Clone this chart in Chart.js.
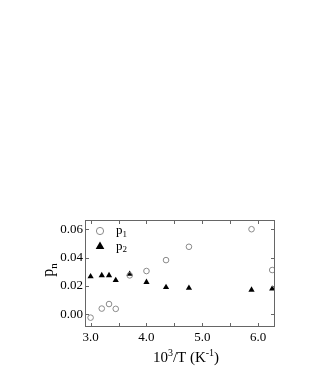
<!DOCTYPE html>
<html>
<head>
<meta charset="utf-8">
<script src="https://cdn.jsdelivr.net/npm/chart.js@4.4.1/dist/chart.umd.min.js"></script>
<style>
    html, body { margin: 0; padding: 0; background: #ffffff; }
    #plot { display: block; }
</style>
</head>
<body>
<canvas id="plot" width="314" height="392"></canvas>
<script>
// 10^3/T values (K^-1)
const inverseTemps = [3.00, 3.20, 3.33, 3.45, 3.70, 4.00, 4.35, 4.76, 5.88, 6.25];
const p1Values = [-0.0024, 0.0040, 0.0072, 0.0038, 0.0274, 0.0305, 0.0382, 0.0476, 0.0600, 0.0312];
const p2Values = [0.0266, 0.0274, 0.0274, 0.0240, 0.0284, 0.0226, 0.0190, 0.0185, 0.0172, 0.0180];
const xTickLabels = ['3.0', '4.0', '5.0', '6.0'];
const yTickLabels = ['0.00', '0.02', '0.04', '0.06'];

const fontFamily = '"Liberation Serif", serif';
const axisColor = '#666666';

Chart.defaults.font.family = fontFamily;
Chart.defaults.color = '#000000';

function toPoints(xs, ys) {
    return xs.map(function (x, i) {
        return { x: x, y: ys[i] };
    });
}

function drawSupText(ctx, parts, x, y, size, align) {
    // parts: [text, mode] where mode is '', 'sup' or 'sub'
    const small = Math.round(size * 0.68);
    let total = 0;
    parts.forEach(function (p) {
        ctx.font = (p[1] ? small : size) + 'px ' + fontFamily;
        total += ctx.measureText(p[0]).width;
    });
    let cx = align === 'center' ? x - total / 2 : x;
    ctx.textAlign = 'left';
    ctx.textBaseline = 'alphabetic';
    parts.forEach(function (p) {
        const isSmall = p[1] !== '';
        ctx.font = (isSmall ? small : size) + 'px ' + fontFamily;
        let dy = 0;
        if (p[1] === 'sup') dy = -size * 0.42;
        if (p[1] === 'sub') dy = size * 0.22;
        ctx.fillText(p[0], cx, y + dy);
        cx += ctx.measureText(p[0]).width;
    });
}

const framePlugin = {
    id: 'frame',
    afterDraw: function (chart) {
        const ctx = chart.ctx;
        const area = chart.chartArea;
        const xs = chart.scales.x;
        const ys = chart.scales.y;
        ctx.save();

        // box
        ctx.strokeStyle = axisColor;
        ctx.lineWidth = 1;
        ctx.strokeRect(Math.round(area.left) + 0.5, Math.round(area.top) + 0.5,
            Math.round(area.right - area.left) - 1, Math.round(area.bottom - area.top) - 1);

        // inward ticks
        ctx.beginPath();
        xs.ticks.forEach(function (t) {
            const px = Math.round(xs.getPixelForValue(t.value)) + 0.5;
            ctx.moveTo(px, area.bottom);
            ctx.lineTo(px, area.bottom - 4);
            ctx.moveTo(px, area.top);
            ctx.lineTo(px, area.top + 4);
        });
        ys.ticks.forEach(function (t) {
            const py = Math.round(ys.getPixelForValue(t.value)) + 0.5;
            ctx.moveTo(area.left, py);
            ctx.lineTo(area.left + 4, py);
            ctx.moveTo(area.right, py);
            ctx.lineTo(area.right - 4, py);
        });
        ctx.stroke();

        // axis titles
        ctx.fillStyle = '#000000';
        drawSupText(ctx, [['10', ''], ['3', 'sup'], ['/T (K', ''], ['-1', 'sup'], [')', '']],
            186, 362, 15, 'center');

        ctx.save();
        ctx.translate(53, 270);
        ctx.rotate(-Math.PI / 2);
        drawSupText(ctx, [['p', ''], ['n', 'sub']], 0, 0, 16, 'center');
        ctx.restore();

        // legend
        const legendX = 100;
        const legendRows = [231, 246.5];
        chart.data.datasets.forEach(function (ds, i) {
            const ly = legendRows[i];
            ctx.beginPath();
            if (ds.pointStyle === 'triangle') {
                const r = 5;
                ctx.moveTo(legendX, ly - r);
                ctx.lineTo(legendX + r * 0.866, ly + r * 0.5);
                ctx.lineTo(legendX - r * 0.866, ly + r * 0.5);
                ctx.closePath();
                ctx.fillStyle = ds.pointBackgroundColor;
                ctx.fill();
            } else {
                ctx.arc(legendX, ly, 3.6, 0, Math.PI * 2);
                ctx.strokeStyle = ds.pointBorderColor;
                ctx.lineWidth = 1;
                ctx.stroke();
            }
            ctx.fillStyle = '#000000';
            drawSupText(ctx, [['p', ''], [String(i + 1), 'sub']], 116, ly + 3, 13, 'left');
        });

        ctx.restore();
    }
};

new Chart(document.getElementById('plot').getContext('2d'), {
    type: 'scatter',
    data: {
        datasets: [
            {
                label: 'p1',
                data: toPoints(inverseTemps, p1Values),
                pointStyle: 'circle',
                pointRadius: 2.8,
                pointBorderWidth: 1,
                pointBorderColor: '#8a8a8a',
                pointBackgroundColor: 'rgba(0,0,0,0)',
                showLine: false
            },
            {
                label: 'p2',
                data: toPoints(inverseTemps, p2Values),
                pointStyle: 'triangle',
                pointRadius: 3.6,
                pointBorderWidth: 0,
                pointBorderColor: '#000000',
                pointBackgroundColor: '#000000',
                showLine: false
            }
        ]
    },
    options: {
        responsive: false,
        animation: false,
        events: [],
        layout: {
            padding: { left: 0, right: 39, top: 220, bottom: 0 }
        },
        plugins: {
            legend: { display: false },
            tooltip: { enabled: false }
        },
        scales: {
            x: {
                type: 'linear',
                min: 2.9,
                max: 6.3,
                afterFit: function (scale) { scale.height = 65; },
                border: { display: false },
                grid: { display: false, drawTicks: false },
                ticks: {
                    stepSize: 0.5,
                    includeBounds: false,
                    autoSkip: false,
                    maxRotation: 0,
                    padding: 3,
                    color: '#000000',
                    font: { family: fontFamily, size: 13 },
                    callback: function (value) {
                        const label = Number(value).toFixed(1);
                        return xTickLabels.indexOf(label) >= 0 ? label : '';
                    }
                }
            },
            y: {
                type: 'linear',
                min: -0.009,
                max: 0.0665,
                afterFit: function (scale) { scale.width = 85; },
                border: { display: false },
                grid: { display: false, drawTicks: false },
                ticks: {
                    stepSize: 0.02,
                    includeBounds: false,
                    padding: 2,
                    color: '#000000',
                    font: { family: fontFamily, size: 13 },
                    callback: function (value) {
                        const label = Number(value).toFixed(2);
                        return yTickLabels.indexOf(label) >= 0 ? label : '';
                    }
                }
            }
        }
    },
    plugins: [framePlugin]
});
</script>
</body>
</html>
